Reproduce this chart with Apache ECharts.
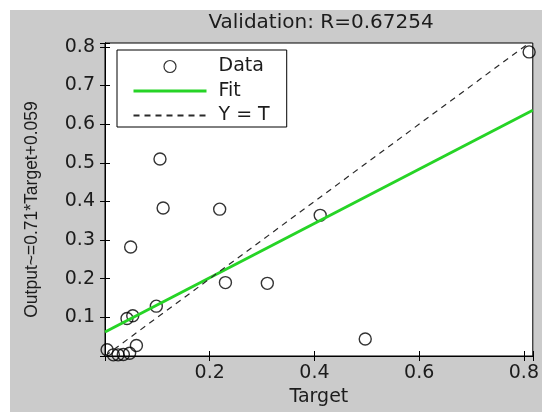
<!DOCTYPE html>
<html>
<head>
<meta charset="utf-8">
<script src="https://cdn.jsdelivr.net/npm/echarts@6/dist/echarts.min.js"></script>
<style>
  html, body { margin: 0; padding: 0; background: #fff; }
  #chart { width: 542px; height: 412px; }
</style>
</head>
<body>
<div id="chart"></div>
<script>
// values
var targets = [0.105, 0.111, 0.219, 0.411, 0.049, 0.230, 0.310, 0.098, 0.042, 0.053, 0.497, 0.004, 0.016, 0.025, 0.035, 0.047, 0.060, 0.810]
var outputs = [0.510, 0.383, 0.380, 0.364, 0.282, 0.190, 0.188, 0.129, 0.097, 0.104, 0.044, 0.016, 0.003, 0.003, 0.004, 0.007, 0.027, 0.787]
var fitTarget = [0, 0.817]
var fitOutput = [0.062, 0.636]
var identityLine = [0, 0.817]
var xMax = 0.817
var yMax = 0.81
var titleText = 'Validation: R=0.67254'
var yName = 'Output~=0.71*Target+0.059'
var xName = 'Target'

var font = 'DejaVu Sans'
var textColor = '#1c1c1c'

function tickFmt(step) {
  return function (v) {
    var k = v / step
    if (v <= 0 || Math.abs(k - Math.round(k)) > 1e-6) return ''
    return v.toFixed(1)
  }
}

function pairs(xs, ys) {
  var out = []
  for (var i = 0; i < xs.length; i++) out.push([xs[i], ys[i]])
  return out
}

var chart = echarts.init(document.getElementById('chart'))

chart.setOption({
  backgroundColor: '#fff',
  animation: false,
  graphic: [{
    type: 'rect',
    left: 10, top: 10, z: -10,
    shape: { width: 532, height: 402 },
    style: { fill: '#cbcbcb' }
  }],
  title: {
    text: titleText,
    left: 321,
    top: 13,
    padding: 0,
    textAlign: 'center',
    textStyle: { fontFamily: font, fontSize: 20, fontWeight: 'normal', color: textColor }
  },
  legend: {
    orient: 'vertical',
    left: 117,
    top: 50,
    padding: [7, 17, 2, 15],
    itemWidth: 73,
    itemHeight: 12,
    itemGap: 5.5,
    backgroundColor: '#fff',
    borderColor: '#000',
    borderWidth: 1,
    borderRadius: 0,
    textStyle: { fontFamily: font, fontSize: 19, color: textColor, padding: [0, 0, 0, 7] },
    data: [
      { name: 'Data', itemStyle: { borderWidth: 1.2 } },
      { name: 'Fit', itemStyle: { opacity: 0 }, lineStyle: { width: 3 } },
      { name: 'Y = T', itemStyle: { opacity: 0 } }
    ]
  },
  grid: {
    left: 105,
    right: 4,
    top: 43,
    bottom: 49,
    show: true,
    backgroundColor: '#fff',
    borderColor: '#000',
    borderWidth: 1
  },
  xAxis: [{
    type: 'value',
    position: 'bottom',
    min: 0, max: xMax, interval: 0.2,
    name: xName,
    nameLocation: 'middle',
    nameGap: 32,
    nameTextStyle: { fontFamily: font, fontSize: 19, color: textColor },
    axisLine: { show: true, lineStyle: { color: '#000', width: 1 } },
    axisTick: { show: true, inside: true, length: 5, lineStyle: { color: '#000' } },
    axisLabel: { formatter: tickFmt(0.2), margin: 8, fontFamily: font, fontSize: 19, color: textColor },
    splitLine: { show: false }
  }, {
    type: 'value',
    position: 'top',
    min: 0, max: xMax, interval: 0.2,
    axisLine: { show: true, lineStyle: { color: '#000', width: 1 } },
    axisTick: { show: true, inside: true, length: 5, lineStyle: { color: '#000' } },
    axisLabel: { show: false },
    splitLine: { show: false }
  }],
  yAxis: [{
    type: 'value',
    position: 'left',
    min: 0, max: yMax, interval: 0.1,
    name: yName,
    nameLocation: 'middle',
    nameGap: 64,
    nameRotate: 90,
    nameTextStyle: { fontFamily: 'Liberation Sans', fontSize: 17.5, color: textColor, padding: [0, 20, 0, 0] },
    axisLine: { show: true, lineStyle: { color: '#000', width: 1 } },
    axisTick: { show: true, inside: true, length: 5, lineStyle: { color: '#000' } },
    axisLabel: { formatter: tickFmt(0.1), margin: 10, fontFamily: font, fontSize: 19, color: textColor },
    splitLine: { show: false }
  }, {
    type: 'value',
    position: 'right',
    min: 0, max: yMax, interval: 0.1,
    axisLine: { show: true, lineStyle: { color: '#000', width: 1 } },
    axisTick: { show: true, inside: true, length: 5, lineStyle: { color: '#000' } },
    axisLabel: { show: false },
    splitLine: { show: false }
  }],
  series: [{
    name: 'Data',
    type: 'scatter',
    clip: false,
    symbol: 'circle',
    symbolSize: 12,
    itemStyle: { color: 'rgba(0,0,0,0)', borderColor: '#000', borderWidth: 1.4 },
    data: pairs(targets, outputs),
    z: 3
  }, {
    name: 'Fit',
    type: 'line',
    symbol: 'none',
    lineStyle: { color: '#26d426', width: 3 },
    itemStyle: { color: 'rgba(0,0,0,0)' },
    data: pairs(fitTarget, fitOutput),
    z: 4
  }, {
    name: 'Y = T',
    type: 'line',
    symbol: 'none',
    lineStyle: { color: '#2a2a2a', width: 1.2, type: [6, 5] },
    itemStyle: { color: 'rgba(0,0,0,0)' },
    data: pairs(identityLine, identityLine),
    z: 4
  }]
})
</script>
</body>
</html>
